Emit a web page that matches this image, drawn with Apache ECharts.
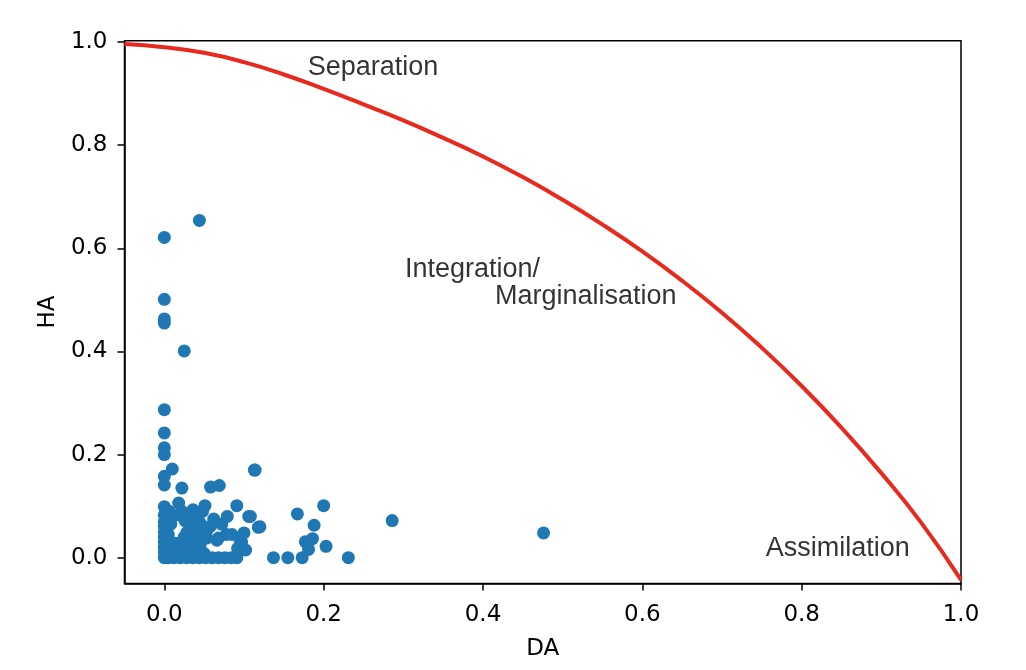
<!DOCTYPE html>
<html>
<head>
<meta charset="utf-8">
<script src="https://cdn.jsdelivr.net/npm/echarts@6/dist/echarts.min.js"></script>
<style>
html,body{margin:0;padding:0;background:#fff;}
#c{width:1026px;height:670px;}
</style>
</head>
<body>
<div id="c"></div>
<script>
// Scatter points (DA, HA)
const daValues = [
  0,0,0,0,0,0,0,0,0,0,0,0,0,0,0,0,0,0,0,0,
  0.044,0.025,0.010,0.113,0.022,0.058,0.069,
  0.018,0.051,0.091,0.036,0.079,0.106,0.118,0.018,0.035,0.043,0.031,0.058,0.053,0.006,0.008,0.045,
  0.005,0.012,0.020,0.028,0.036,0.044,0.052,0.060,0.068,0.076,0.084,0.091,
  0.008,0.020,0.032,0.044,
  0.014,0.039,0.053,0.068,0.085,0.095,0.092,0.025,0.045,0.066,0.097,0.120,
  0.010,0.024,0.038,0.050,0.005,0.028,0.040,0.022,0.010,0.026,0.048,0.062,0.072,0.078,0.100,0.102,0.030,0.006,
  0.114,0.108,
  0.137,0.155,0.173,0.231,0.167,0.200,0.188,0.177,0.186,0.181,0.203,0.286,0.476
];
const haValues = [
  0.621,0.501,0.463,0.455,0.287,0.242,0.213,0.200,0.158,0.141,0.099,0.083,0.070,0.061,0.050,0.040,0.030,0.020,0.010,0.000,
  0.654,0.401,0.172,0.170,0.135,0.137,0.140,
  0.106,0.101,0.101,0.093,0.080,0.080,0.059,0.083,0.083,0.070,0.061,0.061,0.051,0.090,0.065,0.067,
  0,0,0,0,0,0,0,0,0,0,0,0,
  0.020,0.015,0.020,0.018,
  0.028,0.032,0.038,0.038,0.045,0.035,0.018,0.040,0.025,0.034,0.031,0.060,
  0.010,0.008,0.010,0.008,0.045,0.048,0.048,0.090,0.080,0.072,0.090,0.075,0.065,0.045,0.048,0.015,0.030,0.030,
  0.170,0.080,
  0,0,0,0,0.085,0.101,0.063,0.031,0.037,0.016,0.022,0.072,0.048
];
// Red boundary curve
const curveX = [-0.05,0,0.05,0.1,0.15,0.2,0.25,0.3,0.35,0.4,0.45,0.5,0.55,0.6,0.65,0.7,0.75,0.8,0.85,0.9,0.95,1.0];
const curveY = [0.996,0.990,0.979,0.961,0.937,0.909,0.879,0.848,0.814,0.778,0.738,0.694,0.646,0.594,0.537,0.475,0.407,0.333,0.252,0.164,0.068,-0.043];
// Annotations
const noteTexts = ['Separation','Integration/','Marginalisation','Assimilation'];
const noteX = [0.180,0.302,0.415,0.755];
const noteY = [0.951,0.558,0.506,0.0175];
// Tick labels
const tickValues = [0.0,0.2,0.4,0.6,0.8,1.0];

const pts = daValues.map((d,i)=>[d,haValues[i]]);
const curve = curveX.map((x,i)=>[x,curveY[i]]);
const notes = noteX.map((x,i)=>({value:[x,noteY[i]],name:noteTexts[i]}));

const tickFont = {fontFamily:'DejaVu Sans',fontSize:23,color:'#000'};
function axisCommon(){
  return {
    type:'value',
    axisLine:{show:true,onZero:false,lineStyle:{color:'#000',width:1.5}},
    axisTick:{show:true,inside:false,length:7,lineStyle:{color:'#000',width:1.5},customValues:tickValues},
    axisLabel:Object.assign({show:true,customValues:tickValues,formatter:v=>Number(v).toFixed(1)},tickFont),
    splitLine:{show:false},
    nameLocation:'middle',
    nameTextStyle:{fontFamily:'DejaVu Sans',fontSize:23,color:'#000'}
  };
}
const xA = axisCommon();
Object.assign(xA,{min:-0.05,max:1.0,name:'DA',nameGap:54});
xA.axisLabel.margin = 20;
const yA = axisCommon();
Object.assign(yA,{min:-0.05,max:1.0025,name:'HA',nameGap:65});
yA.axisLabel.margin = 17;

const chart = echarts.init(document.getElementById('c'),null,{renderer:'canvas'});
chart.setOption({
  animation:false,
  grid:{left:124.5,right:65,top:40.7,bottom:86.5,show:true,borderColor:'#000',borderWidth:1.5,backgroundColor:'transparent',containLabel:false},
  xAxis:xA,
  yAxis:yA,
  series:[
    {type:'scatter',data:pts,symbolSize:13,itemStyle:{color:'#1f77b4',opacity:1},z:3},
    {type:'line',data:curve,smooth:0.5,showSymbol:false,symbol:'none',lineStyle:{color:'#e8291e',width:4},clip:true,z:4},
    {type:'scatter',data:notes,symbolSize:0,silent:true,z:5,
     label:{show:true,position:'right',distance:0,formatter:p=>p.name,fontFamily:'Liberation Sans',fontSize:27,color:'#000',textBorderWidth:0,align:'left',verticalAlign:'middle'}}
  ]
});
</script>
</body>
</html>
